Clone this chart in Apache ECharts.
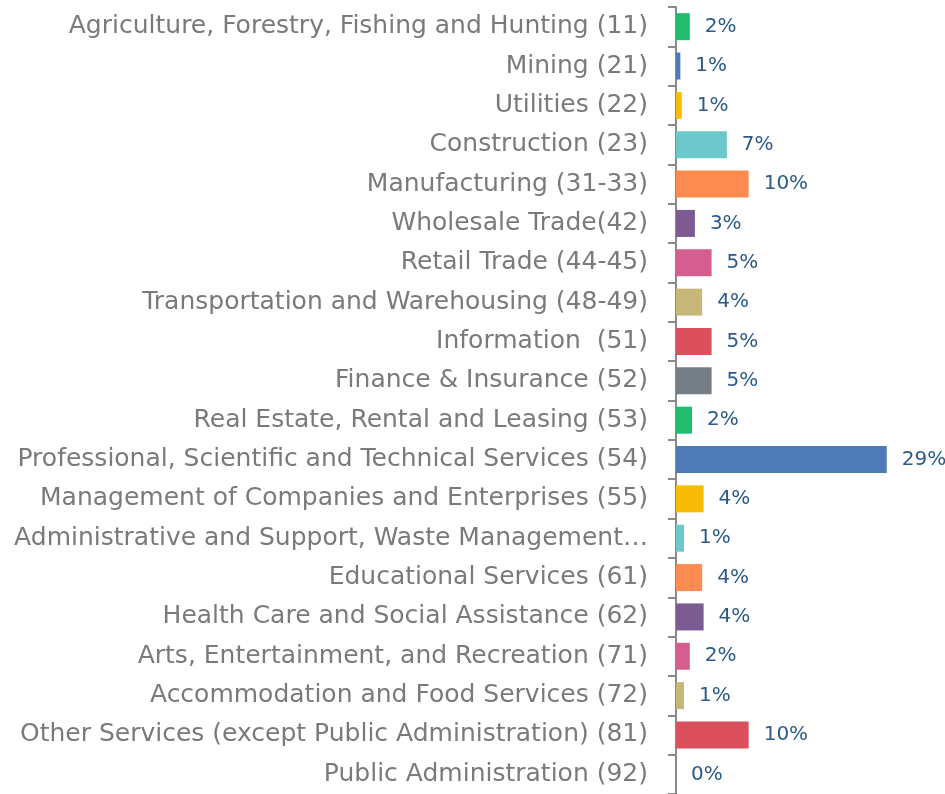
<!DOCTYPE html>
<html>
<head>
<meta charset="utf-8">
<script src="https://cdn.jsdelivr.net/npm/echarts@6/dist/echarts.min.js"></script>
<style>
  html, body { margin: 0; padding: 0; background: #fff; }
  #chart { width: 945px; height: 794px; }
</style>
</head>
<body>
<div id="chart"></div>
<script>
// industries, top to bottom
var industries = [
	'Agriculture, Forestry, Fishing and Hunting (11)',
	'Mining (21)',
	'Utilities (22)',
	'Construction (23)',
	'Manufacturing (31-33)',
	'Wholesale Trade(42)',
	'Retail Trade (44-45)',
	'Transportation and Warehousing (48-49)',
	'Information  (51)',
	'Finance & Insurance (52)',
	'Real Estate, Rental and Leasing (53)',
	'Professional, Scientific and Technical Services (54)',
	'Management of Companies and Enterprises (55)',
	'Administrative and Support, Waste Management\u2026',
	'Educational Services (61)',
	'Health Care and Social Assistance (62)',
	'Arts, Entertainment, and Recreation (71)',
	'Accommodation and Food Services (72)',
	'Other Services (except Public Administration) (81)',
	'Public Administration (92)'
];
// share of firms, percent
var shares = [1.9, 0.6, 0.8, 7.0, 10.0, 2.6, 4.9, 3.6, 4.9, 4.9, 2.2, 29.0, 3.8, 1.1, 3.6, 3.8, 1.9, 1.1, 10.0, 0];

var palette = ['#1fbe6e', '#4e7bb5', '#f8bc05', '#6cc8cb', '#fe8b50', '#7b5b92', '#d45f8e', '#c7b779', '#dc4f5d', '#767e85'];

var chart = echarts.init(document.getElementById('chart'));
var option = {
	animation: false,
	grid: {
		left: 676,
		top: 7,
		width: 218,
		height: 792
	},
	xAxis: {
		type: 'value',
		min: 0,
		max: 30,
		show: false
	},
	yAxis: {
		type: 'category',
		inverse: true,
		data: industries,
		axisLine: {
			lineStyle: { color: '#8a8a8a', width: 2 }
		},
		axisTick: {
			show: true,
			length: 8,
			lineStyle: { color: '#8a8a8a', width: 2 }
		},
		axisLabel: {
			margin: 28,
			color: '#7a7a7a',
			fontSize: 25,
			fontFamily: 'DejaVu Sans',
			padding: [3, 0, 0, 0]
		}
	},
	series: [
		{
			type: 'bar',
			barWidth: 27,
			data: shares,
			itemStyle: {
				color: function (params) {
					return palette[params.dataIndex % palette.length];
				}
			},
			label: {
				show: true,
				position: 'right',
				distance: 15,
				color: '#2b5a8b',
				fontSize: 20,
				fontFamily: 'DejaVu Sans',
				formatter: function (p) {
					return Math.round(p.value) + '%';
				}
			}
		}
	]
};
chart.setOption(option);
</script>
</body>
</html>
